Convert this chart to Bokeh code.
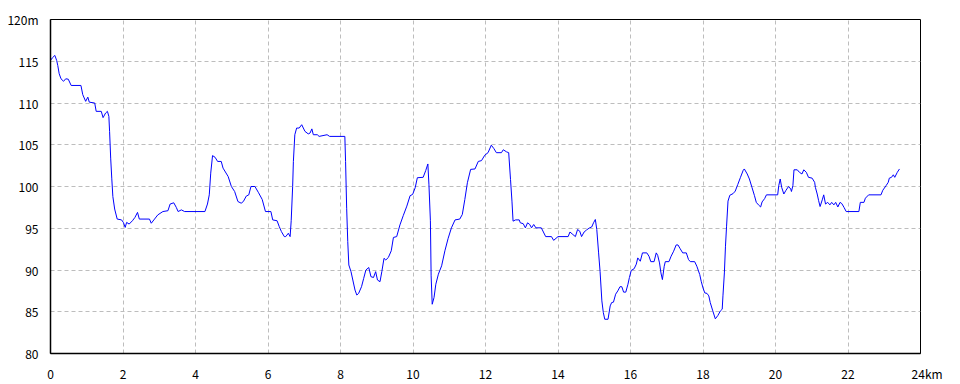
from bokeh.plotting import figure
from bokeh.models import Range1d, FixedTicker
from bokeh.embed import file_html
from bokeh.resources import INLINE

# distance along the route (km) and elevation (m)
dist_km = [
    0.00, 0.05, 0.12, 0.17, 0.20, 0.24, 0.29, 0.36, 0.42, 0.49, 0.57, 0.84, 0.89, 0.97, 1.03, 1.07,
    1.22, 1.26, 1.40, 1.45, 1.52, 1.57, 1.61, 1.63, 1.66, 1.69, 1.72, 1.77, 1.84, 1.96, 2.01, 2.06,
    2.10, 2.17, 2.26, 2.33, 2.40, 2.45, 2.73, 2.78, 2.87, 2.96, 3.10, 3.24, 3.30, 3.40, 3.47, 3.52,
    3.61, 3.70, 4.26, 4.33, 4.38, 4.42, 4.47, 4.54, 4.61, 4.71,
    4.76, 4.90, 4.99, 5.08, 5.17, 5.26, 5.32, 5.40, 5.47, 5.53, 5.64, 5.74, 5.84, 5.93, 6.08, 6.13,
    6.25, 6.31, 6.37, 6.45, 6.49, 6.56, 6.61, 6.64, 6.68, 6.70, 6.74, 6.79, 6.86, 6.93, 7.02, 7.11,
    7.16, 7.21, 7.25, 7.36, 7.41, 7.63, 7.70, 8.12, 8.14, 8.17, 8.20, 8.23, 8.29, 8.34, 8.40, 8.45,
    8.50, 8.58, 8.64, 8.70, 8.78, 8.84, 8.91, 8.97, 9.02, 9.09, 9.14, 9.20, 9.25, 9.32, 9.40, 9.46,
    9.55, 9.64, 9.73, 9.83, 9.92, 9.99, 10.06, 10.12, 10.28, 10.35, 10.41, 10.44, 10.48, 10.50, 10.53,
    10.58, 10.63, 10.70, 10.79, 10.88, 10.97, 11.06, 11.16, 11.29, 11.36, 11.43, 11.50, 11.59, 11.71,
    11.80, 11.89, 11.98, 12.07, 12.16, 12.23, 12.30, 12.44, 12.49, 12.58, 12.64, 12.69, 12.73, 12.76,
    12.83, 12.93, 12.96, 13.04, 13.10, 13.16, 13.22, 13.27, 13.33, 13.39, 13.54, 13.66, 13.82, 13.88,
    14.00, 14.28, 14.33,
    14.41, 14.48, 14.54, 14.60, 14.65, 14.72, 14.79, 14.87, 14.93, 14.98, 15.03, 15.07, 15.12, 15.16,
    15.21, 15.25, 15.29, 15.38, 15.44, 15.48, 15.53, 15.59, 15.65, 15.71, 15.76, 15.81, 15.87, 15.93,
    15.97, 16.02, 16.10, 16.16, 16.20, 16.27, 16.33, 16.45, 16.51, 16.56, 16.65, 16.71, 16.75, 16.80,
    16.84, 16.88, 16.93, 16.96, 17.06, 17.12, 17.19, 17.26, 17.31, 17.37, 17.44, 17.54, 17.60, 17.65,
    17.77, 17.83, 17.91, 17.95, 18.00, 18.05, 18.11, 18.16, 18.20, 18.27, 18.34, 18.41, 18.48, 18.53,
    18.55, 18.59, 18.62, 18.65, 18.69, 18.74, 18.83, 18.89, 18.96, 19.03, 19.11,
    19.14, 19.22, 19.28, 19.35, 19.42, 19.47, 19.53, 19.59, 19.63, 19.70, 19.75, 20.06, 20.09, 20.13,
    20.17, 20.23, 20.29, 20.36, 20.42, 20.44, 20.48, 20.51, 20.60, 20.66, 20.73, 20.78, 20.85, 20.91,
    21.01, 21.08, 21.10, 21.15, 21.19, 21.23, 21.29, 21.33, 21.38, 21.44, 21.50, 21.55, 21.61, 21.66,
    21.72, 21.78, 21.83, 21.89, 21.95, 22.30, 22.34, 22.44, 22.48, 22.57, 22.91, 22.96, 23.05, 23.11,
    23.14, 23.20, 23.25, 23.29, 23.36, 23.42,
]
elev_m = [
    115.1, 115.4, 115.7, 115.1, 114.5, 113.5, 112.9, 112.6, 112.9, 112.85, 112.1, 112.1, 111.0, 110.2, 110.7, 110.1,
    110.0, 109.0, 109.0, 108.25, 108.8, 109.0, 108.4, 106.6, 103.4, 101.0, 98.8, 97.3, 96.1, 96.0, 95.7, 95.1,
    95.7, 95.5, 95.9, 96.3, 96.9, 96.1, 96.1, 95.6, 96.1, 96.6, 97.0, 97.1, 97.9, 98.05, 97.5, 97.0,
    97.2, 97.0, 97.0, 97.9, 99.0, 101.6, 103.7, 103.5, 103.0, 103.0,
    102.2, 101.2, 100.0, 99.4, 98.2, 98.0, 98.2, 98.85, 99.0, 100.0, 100.0, 99.25, 98.45, 97.0, 97.0, 96.0,
    95.9, 95.2, 94.6, 94.0, 94.0, 94.4, 94.0, 95.9, 100.0, 103.0, 106.2, 107.0, 107.0, 107.4, 106.6, 106.3,
    106.4, 106.9, 106.2, 106.2, 106.0, 106.2, 106.0, 106.0, 103.0, 97.4, 93.4, 90.6, 89.8, 88.8, 87.6, 87.0,
    87.2, 88.0, 89.0, 90.0, 90.3, 89.2, 89.1, 89.8, 88.8, 88.6, 89.8, 91.4, 91.2, 91.5, 92.3, 93.9,
    94.0, 95.4, 96.5, 97.65, 98.9, 99.05, 99.85, 101.05, 101.1, 101.9, 102.7, 100.2, 95.9, 89.3, 85.9,
    86.7, 88.3, 89.5, 90.5, 92.3, 93.8, 95.05, 96.0, 96.1, 96.65, 98.45, 100.45, 102.05, 102.1,
    103.0, 103.1, 103.75, 104.05, 104.95, 104.55, 104.05, 104.05, 104.4, 104.15, 104.05, 100.85, 98.25, 95.85,
    96.0, 96.0, 95.65, 95.55, 95.05, 95.65, 95.45, 95.05, 95.45, 95.05, 95.05, 94.0, 94.0, 93.55,
    94.0, 94.0, 94.55,
    94.25, 94.0, 94.85, 94.65, 94.0, 94.55, 94.8, 95.05, 95.15, 95.65, 96.05, 94.85, 92.05, 89.85,
    86.3, 84.9, 84.1, 84.1, 85.7, 86.1, 86.15, 87.1, 87.5, 88.0, 88.0, 87.35, 87.35, 88.3,
    89.1, 89.95, 90.15, 90.7, 91.45, 91.05, 92.05, 92.05, 91.65, 91.0, 91.0, 92.05, 91.75, 90.85,
    89.65, 88.85, 90.45, 91.0, 91.0, 91.65, 92.25, 93.0, 93.0, 92.55, 92.05, 92.05, 91.25, 91.0,
    91.0, 90.45, 89.45, 88.65, 87.85, 87.25, 87.2, 86.9, 86.1, 85.1, 84.15, 84.55, 85.1, 85.3,
    86.9, 89.65, 92.85, 95.25, 98.25, 98.95, 99.15, 99.45, 100.25, 101.05, 101.95,
    102.1, 101.5, 100.9, 99.9, 98.9, 98.1, 97.8, 97.55, 98.15, 98.55, 99.0, 99.0, 100.1, 100.9,
    99.9, 99.1, 99.55, 100.0, 99.7, 99.4, 100.1, 102.0, 102.0, 101.7, 101.5, 102.0, 101.7, 101.1,
    101.0, 100.5, 99.9, 99.1, 98.3, 97.6, 98.4, 99.0, 97.9, 98.1, 97.8, 98.1, 97.8, 98.1,
    97.55, 98.1, 97.95, 97.5, 97.0, 97.0, 98.1, 98.1, 98.6, 99.0, 99.0, 99.55, 100.1, 100.5,
    101.0, 101.1, 101.4, 101.1, 101.7, 102.1,
]

x_ticks = [0, 2, 4, 6, 8, 10, 12, 14, 16, 18, 20, 22, 24]
x_tick_labels = {0: "0", 2: "2", 4: "4", 6: "6", 8: "8", 10: "10", 12: "12", 14: "14",
                 16: "16", 18: "18", 20: "20", 22: "22", 24: "\u2007\u200724km"}
y_ticks = [80, 85, 90, 95, 100, 105, 110, 115, 120]
y_tick_labels = {80: "80", 85: "85", 90: "90", 95: "95", 100: "100", 105: "105",
                 110: "110", 115: "115", 120: "120m"}

FONT = "Noto Sans CJK JP"

p = figure(width=960, height=384, output_backend="svg", toolbar_location=None,
           x_range=Range1d(0, 24), y_range=Range1d(80, 120),
           min_border_left=50, min_border_right=40, min_border_top=19, min_border_bottom=30,
           background_fill_color="white", border_fill_color="white")

p.outline_line_color = "black"
p.outline_line_width = 1
p.outline_line_alpha = 1

p.line(dist_km, elev_m, line_color="#0000ff", line_width=1)

for ax in (p.xaxis[0], p.yaxis[0]):
    ax.axis_line_color = "black"
    ax.axis_line_width = 1.5
    ax.major_tick_line_color = None
    ax.minor_tick_line_color = None
    ax.major_label_text_font = FONT
    ax.major_label_text_font_size = "12px"
    ax.major_label_text_color = "black"

p.xaxis[0].ticker = FixedTicker(ticks=x_ticks)
p.xaxis[0].major_label_overrides = {k: v for k, v in x_tick_labels.items()}
p.xaxis[0].major_label_standoff = 5
p.yaxis[0].ticker = FixedTicker(ticks=y_ticks)
p.yaxis[0].major_label_overrides = {k: v for k, v in y_tick_labels.items()}
p.yaxis[0].major_label_standoff = 6

p.xgrid.ticker = FixedTicker(ticks=x_ticks[1:-1])
p.ygrid.ticker = FixedTicker(ticks=y_ticks[1:-1])
for g in (p.xgrid[0], p.ygrid[0]):
    g.grid_line_color = "#bdbdbd"
    g.grid_line_dash = "4 3"
    g.grid_line_width = 1

open("out.html", "w").write(file_html(p, INLINE))
